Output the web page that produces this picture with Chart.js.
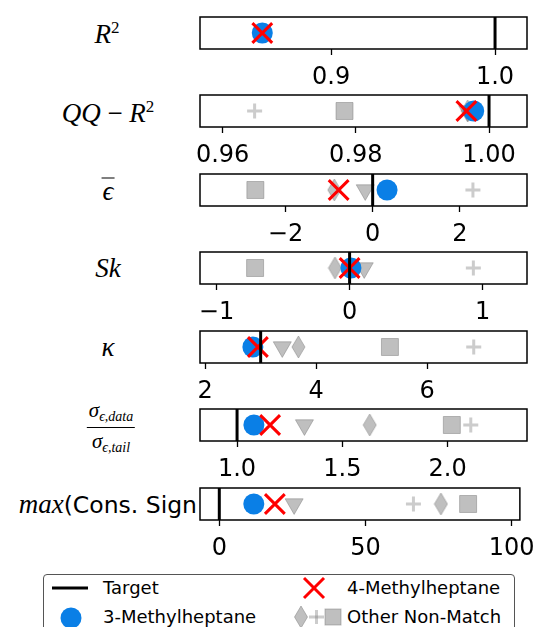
<!DOCTYPE html>
<html>
<head>
<meta charset="utf-8">
<script src="https://cdn.jsdelivr.net/npm/chart.js@4.4.0/dist/chart.umd.min.js"></script>
<style>
  body { margin:0; background:#fff; width:543px; height:627px; overflow:hidden; position:relative; font-family:"DejaVu Sans", sans-serif; }
  canvas.row { position:absolute; left:0; }
  .lab { position:absolute; transform:translate(-50%,-50%); font-family:"Liberation Serif", "DejaVu Serif", serif; font-style:italic; font-size:27px; white-space:nowrap; color:#000; line-height:1; }
  .lab sup { font-style:normal; font-size:17px; vertical-align:10px; }
  .up { font-style:normal; }
  .frac { display:inline-flex; flex-direction:column; align-items:center; font-size:21px; }
  .frac span { padding:0 2px; }
  .frac .num { border-bottom:1.3px solid #000; padding-bottom:3px; }
  .frac .den { padding-top:3px; }
  .frac sub { font-size:14px; vertical-align:-4px; }
  #legend { position:absolute; left:43px; top:574px; width:470px; height:80px; border:1px solid #555; border-radius:4px; }
  .lt { position:absolute; font-size:18px; transform:translateY(-50%); white-space:nowrap; }
  #legsvg { position:absolute; left:0; top:0; }
</style>
</head>
<body>

<div class="lab" style="left:107px;top:33px"><span>R</span><sup>2</sup></div>
<div class="lab" style="left:108px;top:112px"><span>QQ</span>&nbsp;<span class="up">−</span>&nbsp;<span>R</span><sup>2</sup></div>
<div class="lab" style="left:108px;top:191px"><span style="display:inline-block;border-top:1.5px solid #000;padding:2px 1px 0 1px;line-height:0.8">ϵ</span></div>
<div class="lab" style="left:108px;top:268px">Sk</div>
<div class="lab" style="left:108px;top:347px">κ</div>
<div class="lab" style="left:111px;top:425px"><span class="frac"><span class="num">σ<sub>ϵ,data</sub></span><span class="den">σ<sub>ϵ,tail</sub></span></span></div>
<div class="lab" style="left:auto;right:346px;top:504px;transform:translateY(-50%)">max<span class="up" style="font-family:'DejaVu Sans';font-size:23.5px">(Cons. Sign</span></div>

<div id="legend"></div>
<svg id="legsvg" width="543" height="627">
  <line x1="52" y1="588" x2="88" y2="588" stroke="#000" stroke-width="3"/>
  <circle cx="71" cy="618" r="10.5" fill="#0a7fe6"/>
  <g stroke="#ff0000" stroke-width="3"><line x1="304" y1="578" x2="324" y2="598"/><line x1="324" y1="578" x2="304" y2="598"/></g>
  <polygon points="301,606 307.5,617 301,628 294.5,617" fill="rgba(128,128,128,0.5)" stroke="rgba(128,128,128,0.5)"/>
  <g stroke="rgba(128,128,128,0.4)" stroke-width="3"><line x1="309" y1="617" x2="324" y2="617"/><line x1="316.5" y1="610" x2="316.5" y2="624"/></g>
  <rect x="325" y="609" width="16" height="16" fill="rgba(128,128,128,0.5)" stroke="rgba(128,128,128,0.5)"/>
</svg>
<div class="lt" style="left:103px;top:587px">Target</div>
<div class="lt" style="left:103px;top:616px">3-Methylheptane</div>
<div class="lt" style="left:347px;top:587px">4-Methylheptane</div>
<div class="lt" style="left:347px;top:616px">Other Non-Match</div>

<script>
/* ========= DATA (one entry per row, top to bottom) ========= */
const rowNames = ["R2", "QQ-R2", "mean error", "Sk", "kappa", "sigma ratio", "max cons. sign"];
const axisMin = [0.82, 0.9566, -3.96, -1.124, 1.907, 0.824, -6.6];
const axisMax = [1.0195, 1.0057, 3.54, 1.333, 7.80, 2.377, 102.8];
const tickValues = [[0.9, 1.0], [0.96, 0.98, 1.0], [-2, 0, 2], [-1, 0, 1], [2, 4, 6], [1.0, 1.5, 2.0], [0, 50, 100]];
const tickLabels = [["0.9", "1.0"], ["0.96", "0.98", "1.00"], ["−2", "0", "2"], ["−1", "0", "1"], ["2", "4", "6"], ["1.0", "1.5", "2.0"], ["0", "50", "100"]];

const target = [1.0, 1.0, 0, 0, 3.0, 1.0, 0];
const methyl3 = [0.858, 0.9977, 0.33, 0.01, 2.86, 1.08, 11.8];
const methyl4 = [0.858, 0.9966, -0.78, 0.0, 2.95, 1.157, 19];
const otherSquare = [null, 0.9783, -2.69, -0.71, 5.33, 2.02, 85.1];
const otherDiamond = [null, 0.9968, -0.88, -0.11, 3.68, 1.63, 75.8];
const otherTriangle = [null, 0.9968, -0.17, 0.11, 3.39, 1.32, 25.6];
const otherPlus = [null, 0.9648, 2.3, 0.93, 6.84, 2.11, 66.4];

/* ========= LAYOUT ========= */
const rowTop = [17, 95, 174, 252, 331, 409, 488];
const boxH = 32;
const canvasH = 80;
const grayFill = "rgba(128,128,128,0.5)";

function diamondImg(w, h) {
  const c = document.createElement("canvas");
  c.width = w + 2; c.height = h + 2;
  const g = c.getContext("2d");
  g.beginPath();
  g.moveTo(c.width / 2, 1);
  g.lineTo(c.width - 1, c.height / 2);
  g.lineTo(c.width / 2, c.height - 1);
  g.lineTo(1, c.height / 2);
  g.closePath();
  g.fillStyle = grayFill; g.fill();
  g.strokeStyle = grayFill; g.lineWidth = 1; g.stroke();
  return c;
}
const diamond = diamondImg(13, 22);

const framePlugin = {
  id: "frame",
  afterDatasetsDraw(chart) {
    const a = chart.chartArea, c = chart.ctx;
    c.save();
    c.strokeStyle = "#000";
    c.lineWidth = 1.5;
    c.strokeRect(a.left, a.top, a.right - a.left, a.bottom - a.top);
    c.restore();
  }
};

function pt(v) { return v === null ? [] : [{ x: v, y: 0 }]; }

function makeRow(i) {
  const cv = document.createElement("canvas");
  cv.className = "row";
  cv.width = 543; cv.height = canvasH;
  cv.style.top = (rowTop[i] - 10) + "px";
  document.body.appendChild(cv);

  const datasets = [
    { label: "Target", data: [{ x: target[i], y: -1 }, { x: target[i], y: 1 }], showLine: true,
      borderColor: "#000", borderWidth: 3, pointRadius: 0, order: 0 },
    { label: "4-Methylheptane", data: pt(methyl4[i]), pointStyle: "crossRot", pointRadius: 14,
      pointBorderColor: "#ff0000", pointBorderWidth: 3, order: 1 },
    { label: "3-Methylheptane", data: pt(methyl3[i]), pointStyle: "circle", pointRadius: 10.5,
      pointBackgroundColor: "#0a7fe6", pointBorderColor: "#0a7fe6", pointBorderWidth: 0, order: 2 },
    { label: "Other (square)", data: pt(otherSquare[i]), pointStyle: "rect", pointRadius: 12,
      pointBackgroundColor: grayFill, pointBorderColor: grayFill, pointBorderWidth: 1, order: 3 },
    { label: "Other (diamond)", data: pt(otherDiamond[i]), pointStyle: diamond, order: 4 },
    { label: "Other (triangle)", data: pt(otherTriangle[i]), pointStyle: "triangle", pointRotation: 180, pointRadius: 10.4,
      pointBackgroundColor: grayFill, pointBorderColor: grayFill, pointBorderWidth: 1, order: 5 },
    { label: "Other (plus)", data: pt(otherPlus[i]), pointStyle: "cross", pointRadius: 7.5,
      pointBorderColor: "rgba(128,128,128,0.4)", pointBorderWidth: 3, order: 6 }
  ];

  new Chart(cv, {
    type: "scatter",
    data: { datasets },
    options: {
      responsive: false,
      animation: false,
      events: [],
      layout: { autoPadding: false, padding: { left: 200, right: 16, top: 10, bottom: 0 } },
      plugins: { legend: { display: false }, tooltip: { enabled: false } },
      scales: {
        x: {
          type: "linear", min: axisMin[i], max: axisMax[i],
          afterBuildTicks: s => { s.ticks = tickValues[i].map(v => ({ value: v })); },
          afterFit: s => { s.height = canvasH - 10 - boxH; },
          ticks: { autoSkip: false, maxRotation: 0, padding: 8, color: "#000",
                   font: { family: "DejaVu Sans", size: 24 },
                   callback: (v, k) => tickLabels[i][k] },
          grid: { drawOnChartArea: false, tickLength: 6, tickColor: "#000", tickWidth: 1.3 },
          border: { display: false }
        },
        y: { display: false, min: -1, max: 1 }
      }
    },
    plugins: [framePlugin]
  });
}

for (let i = 0; i < rowNames.length; i++) makeRow(i);
</script>
</body>
</html>
